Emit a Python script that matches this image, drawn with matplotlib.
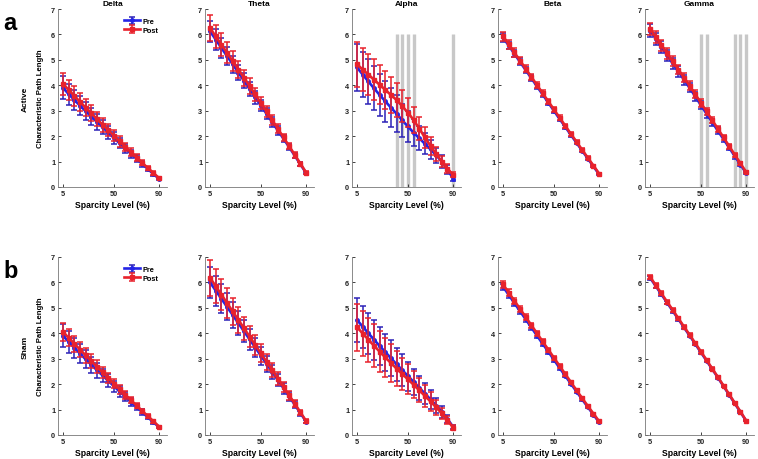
import matplotlib.pyplot as plt

plt.rcParams['font.family'] = ['Liberation Sans', 'DejaVu Sans']

sparsity = [5, 10, 15, 20, 25, 30, 35, 40, 45, 50, 55, 60, 65, 70, 75, 80, 85, 90]
bands = ['Delta', 'Theta', 'Alpha', 'Beta', 'Gamma']
groups = ['Active', 'Sham']
panel_letters = ['a', 'b']

# ---- Active group ----
act_delta_pre = [3.90, 3.65, 3.42, 3.20, 2.98, 2.77, 2.56, 2.35, 2.14, 1.93, 1.72, 1.52, 1.31, 1.11, 0.91, 0.71, 0.51, 0.32]
act_delta_post = [4.05, 3.82, 3.58, 3.35, 3.12, 2.90, 2.67, 2.45, 2.23, 2.01, 1.79, 1.58, 1.37, 1.16, 0.95, 0.75, 0.55, 0.35]
act_delta_pre_err = [0.45, 0.42, 0.40, 0.38, 0.35, 0.33, 0.30, 0.28, 0.25, 0.23, 0.20, 0.18, 0.15, 0.13, 0.11, 0.09, 0.07, 0.05]
act_delta_post_err = [0.42, 0.40, 0.38, 0.36, 0.34, 0.31, 0.29, 0.27, 0.24, 0.22, 0.20, 0.17, 0.15, 0.13, 0.10, 0.08, 0.06, 0.04]

act_theta_pre = [6.12, 5.80, 5.47, 5.15, 4.83, 4.50, 4.18, 3.85, 3.52, 3.20, 2.88, 2.55, 2.22, 1.90, 1.57, 1.23, 0.89, 0.55]
act_theta_post = [6.25, 5.92, 5.60, 5.28, 4.95, 4.62, 4.30, 3.97, 3.64, 3.30, 2.97, 2.63, 2.29, 1.95, 1.61, 1.26, 0.92, 0.57]
act_theta_pre_err = [0.42, 0.40, 0.38, 0.35, 0.33, 0.31, 0.29, 0.27, 0.25, 0.23, 0.21, 0.19, 0.16, 0.14, 0.12, 0.10, 0.08, 0.05]
act_theta_post_err = [0.50, 0.47, 0.44, 0.41, 0.38, 0.35, 0.32, 0.30, 0.27, 0.25, 0.22, 0.20, 0.17, 0.15, 0.12, 0.10, 0.08, 0.05]

act_alpha_pre = [4.70, 4.42, 4.15, 3.88, 3.62, 3.37, 3.12, 2.88, 2.62, 2.38, 2.14, 1.92, 1.70, 1.48, 1.25, 1.00, 0.70, 0.33]
act_alpha_post = [4.82, 4.62, 4.42, 4.22, 4.02, 3.82, 3.62, 3.42, 3.18, 2.92, 2.64, 2.30, 1.95, 1.62, 1.30, 1.00, 0.72, 0.48]
act_alpha_pre_err = [0.92, 0.90, 0.88, 0.86, 0.84, 0.80, 0.76, 0.72, 0.66, 0.60, 0.54, 0.48, 0.42, 0.36, 0.30, 0.24, 0.18, 0.10]
act_alpha_post_err = [0.88, 0.85, 0.82, 0.80, 0.77, 0.74, 0.70, 0.67, 0.63, 0.58, 0.52, 0.47, 0.41, 0.35, 0.29, 0.23, 0.17, 0.10]

act_beta_pre = [5.88, 5.56, 5.24, 4.92, 4.60, 4.28, 3.96, 3.64, 3.32, 3.00, 2.68, 2.37, 2.05, 1.74, 1.43, 1.12, 0.81, 0.50]
act_beta_post = [5.93, 5.61, 5.29, 4.97, 4.65, 4.33, 4.01, 3.69, 3.37, 3.05, 2.73, 2.41, 2.09, 1.78, 1.46, 1.15, 0.84, 0.53]
act_beta_pre_err = [0.16, 0.15, 0.14, 0.14, 0.13, 0.12, 0.11, 0.10, 0.10, 0.09, 0.08, 0.08, 0.07, 0.06, 0.05, 0.05, 0.04, 0.03]
act_beta_post_err = [0.18, 0.17, 0.16, 0.15, 0.14, 0.13, 0.12, 0.11, 0.10, 0.10, 0.09, 0.08, 0.07, 0.06, 0.06, 0.05, 0.04, 0.03]

act_gamma_pre = [6.15, 5.83, 5.50, 5.18, 4.86, 4.54, 4.22, 3.90, 3.56, 3.22, 2.88, 2.55, 2.21, 1.88, 1.55, 1.21, 0.88, 0.55]
act_gamma_post = [6.22, 5.90, 5.58, 5.26, 4.94, 4.62, 4.30, 3.98, 3.65, 3.31, 2.97, 2.63, 2.29, 1.95, 1.61, 1.27, 0.93, 0.59]
act_gamma_pre_err = [0.25, 0.24, 0.23, 0.22, 0.21, 0.20, 0.19, 0.18, 0.17, 0.16, 0.15, 0.14, 0.13, 0.12, 0.10, 0.09, 0.07, 0.05]
act_gamma_post_err = [0.24, 0.23, 0.22, 0.21, 0.20, 0.19, 0.18, 0.17, 0.16, 0.15, 0.14, 0.13, 0.12, 0.11, 0.10, 0.08, 0.07, 0.05]

# ---- Sham group ----
sham_delta_pre = [3.90, 3.66, 3.43, 3.20, 2.98, 2.76, 2.55, 2.34, 2.13, 1.92, 1.71, 1.51, 1.30, 1.10, 0.90, 0.70, 0.50, 0.31]
sham_delta_post = [4.05, 3.82, 3.59, 3.36, 3.13, 2.91, 2.68, 2.46, 2.24, 2.02, 1.80, 1.58, 1.37, 1.16, 0.95, 0.74, 0.54, 0.33]
sham_delta_pre_err = [0.45, 0.42, 0.40, 0.37, 0.35, 0.32, 0.30, 0.27, 0.25, 0.22, 0.20, 0.17, 0.15, 0.13, 0.11, 0.09, 0.07, 0.05]
sham_delta_post_err = [0.35, 0.33, 0.31, 0.30, 0.28, 0.26, 0.25, 0.23, 0.21, 0.19, 0.17, 0.15, 0.13, 0.11, 0.09, 0.07, 0.06, 0.04]

sham_theta_pre = [6.00, 5.68, 5.36, 5.04, 4.72, 4.40, 4.08, 3.76, 3.44, 3.12, 2.80, 2.48, 2.16, 1.84, 1.52, 1.19, 0.86, 0.53]
sham_theta_post = [6.18, 5.85, 5.52, 5.19, 4.86, 4.53, 4.20, 3.87, 3.54, 3.21, 2.88, 2.55, 2.22, 1.89, 1.56, 1.23, 0.89, 0.55]
sham_theta_pre_err = [0.62, 0.59, 0.56, 0.53, 0.50, 0.47, 0.44, 0.41, 0.38, 0.35, 0.32, 0.28, 0.25, 0.22, 0.18, 0.14, 0.10, 0.06]
sham_theta_post_err = [0.70, 0.66, 0.62, 0.58, 0.54, 0.50, 0.46, 0.42, 0.38, 0.35, 0.31, 0.28, 0.24, 0.21, 0.17, 0.14, 0.10, 0.06]

sham_alpha_pre = [4.52, 4.26, 4.00, 3.75, 3.50, 3.26, 3.02, 2.78, 2.55, 2.32, 2.09, 1.86, 1.63, 1.40, 1.16, 0.91, 0.63, 0.32]
sham_alpha_post = [4.24, 3.99, 3.75, 3.51, 3.28, 3.05, 2.83, 2.61, 2.40, 2.19, 1.98, 1.76, 1.54, 1.32, 1.09, 0.85, 0.59, 0.29]
sham_alpha_pre_err = [0.85, 0.83, 0.81, 0.79, 0.76, 0.73, 0.70, 0.66, 0.62, 0.57, 0.52, 0.47, 0.42, 0.36, 0.30, 0.24, 0.17, 0.09]
sham_alpha_post_err = [0.92, 0.90, 0.87, 0.84, 0.81, 0.77, 0.73, 0.69, 0.64, 0.59, 0.54, 0.48, 0.42, 0.36, 0.30, 0.23, 0.16, 0.09]

sham_beta_pre = [5.83, 5.51, 5.19, 4.87, 4.55, 4.23, 3.91, 3.59, 3.28, 2.96, 2.64, 2.33, 2.02, 1.71, 1.40, 1.10, 0.80, 0.50]
sham_beta_post = [5.92, 5.60, 5.28, 4.96, 4.64, 4.32, 4.00, 3.68, 3.36, 3.04, 2.72, 2.40, 2.08, 1.76, 1.45, 1.14, 0.84, 0.54]
sham_beta_pre_err = [0.12, 0.11, 0.11, 0.10, 0.10, 0.09, 0.09, 0.08, 0.08, 0.07, 0.07, 0.06, 0.06, 0.05, 0.05, 0.04, 0.04, 0.03]
sham_beta_post_err = [0.14, 0.13, 0.12, 0.12, 0.11, 0.10, 0.10, 0.09, 0.08, 0.08, 0.07, 0.07, 0.06, 0.05, 0.05, 0.04, 0.04, 0.03]

sham_gamma_pre = [6.18, 5.86, 5.53, 5.21, 4.88, 4.56, 4.23, 3.91, 3.58, 3.25, 2.92, 2.59, 2.26, 1.92, 1.58, 1.24, 0.90, 0.56]
sham_gamma_post = [6.22, 5.89, 5.57, 5.24, 4.92, 4.59, 4.26, 3.94, 3.61, 3.28, 2.95, 2.61, 2.28, 1.94, 1.60, 1.26, 0.92, 0.57]
sham_gamma_pre_err = [0.08, 0.08, 0.07, 0.07, 0.07, 0.06, 0.06, 0.06, 0.05, 0.05, 0.05, 0.04, 0.04, 0.04, 0.03, 0.03, 0.03, 0.02]
sham_gamma_post_err = [0.09, 0.09, 0.08, 0.08, 0.07, 0.07, 0.07, 0.06, 0.06, 0.05, 0.05, 0.05, 0.04, 0.04, 0.03, 0.03, 0.03, 0.02]

# sparsity levels with significant pre/post differences (gray bars)
act_alpha_sig = [40, 45, 50, 55, 90]
act_gamma_sig = [50, 55, 80, 85, 90]
sig_height = 6

data = {
    ('Active', 'Delta'): (act_delta_pre, act_delta_pre_err, act_delta_post, act_delta_post_err, []),
    ('Active', 'Theta'): (act_theta_pre, act_theta_pre_err, act_theta_post, act_theta_post_err, []),
    ('Active', 'Alpha'): (act_alpha_pre, act_alpha_pre_err, act_alpha_post, act_alpha_post_err, act_alpha_sig),
    ('Active', 'Beta'): (act_beta_pre, act_beta_pre_err, act_beta_post, act_beta_post_err, []),
    ('Active', 'Gamma'): (act_gamma_pre, act_gamma_pre_err, act_gamma_post, act_gamma_post_err, act_gamma_sig),
    ('Sham', 'Delta'): (sham_delta_pre, sham_delta_pre_err, sham_delta_post, sham_delta_post_err, []),
    ('Sham', 'Theta'): (sham_theta_pre, sham_theta_pre_err, sham_theta_post, sham_theta_post_err, []),
    ('Sham', 'Alpha'): (sham_alpha_pre, sham_alpha_pre_err, sham_alpha_post, sham_alpha_post_err, []),
    ('Sham', 'Beta'): (sham_beta_pre, sham_beta_pre_err, sham_beta_post, sham_beta_post_err, []),
    ('Sham', 'Gamma'): (sham_gamma_pre, sham_gamma_pre_err, sham_gamma_post, sham_gamma_post_err, []),
}

pre_color = '#2424e6'
post_color = '#e8222c'

fig = plt.figure(figsize=(7.58, 4.6), dpi=100)
W, H = 758.0, 460.0
col_left = [58, 205, 352, 498, 645]
row_top = [10, 258]
ax_w, ax_h = 109, 178

for r, group in enumerate(groups):
    for c, band in enumerate(bands):
        left = col_left[c] / W
        bottom = 1 - (row_top[r] + ax_h) / H
        ax = fig.add_axes([left, bottom, ax_w / W, ax_h / H])
        pre, pre_err, post, post_err, sig = data[(group, band)]

        if sig:
            ax.vlines(sig, 0, sig_height, colors='#c8c8c8', linewidth=2.4, zorder=0)

        ax.errorbar(sparsity, pre, yerr=pre_err, color=pre_color, ecolor='#2c22b8',
                    linewidth=1.9, elinewidth=1.1, capsize=2, capthick=1.1,
                    marker='o', markersize=2.5, label='Pre', zorder=2)
        ax.errorbar(sparsity, post, yerr=post_err, color=post_color, ecolor=post_color,
                    linewidth=1.9, elinewidth=1.1, capsize=2, capthick=1.1,
                    marker='s', markersize=2.8, label='Post', zorder=3)

        ax.set_xlim(0.5, 97)
        ax.set_ylim(0, 7)
        ax.set_xticks([5, 50, 90])
        ax.set_yticks(range(0, 8))
        ax.tick_params(direction='in', length=2, width=0.6, labelsize=5.3,
                       pad=2, colors='#222222')
        for lab in ax.get_xticklabels() + ax.get_yticklabels():
            lab.set_fontweight('bold')
        ax.spines['top'].set_visible(False)
        ax.spines['right'].set_visible(False)
        for side in ['left', 'bottom']:
            ax.spines[side].set_linewidth(0.6)
            ax.spines[side].set_color('#777777')
        ax.set_xlabel('Sparcity Level (%)', fontsize=6.2, fontweight='bold', labelpad=2)

        if r == 0:
            ax.set_title(band, fontsize=6, fontweight='bold', pad=3)
        if c == 0:
            ax.set_ylabel('Characteristic Path Length', fontsize=5.6, fontweight='bold', labelpad=5)
            ax.legend(loc='upper right', frameon=False,
                      prop={'weight': 'bold', 'size': 5.3}, handlelength=2.2,
                      borderaxespad=0.8, labelspacing=0.2, handletextpad=0.3)

    yc = 1 - (row_top[r] + ax_h / 2) / H
    fig.text(25 / W, yc, group, rotation=90, ha='center', va='center',
             fontsize=6, fontweight='bold')
    fig.text(3 / W, 1 - (row_top[r] + 13) / H, panel_letters[r], ha='left', va='center',
             fontsize=17, fontweight='bold')

fig.savefig('out.png', dpi=100)
